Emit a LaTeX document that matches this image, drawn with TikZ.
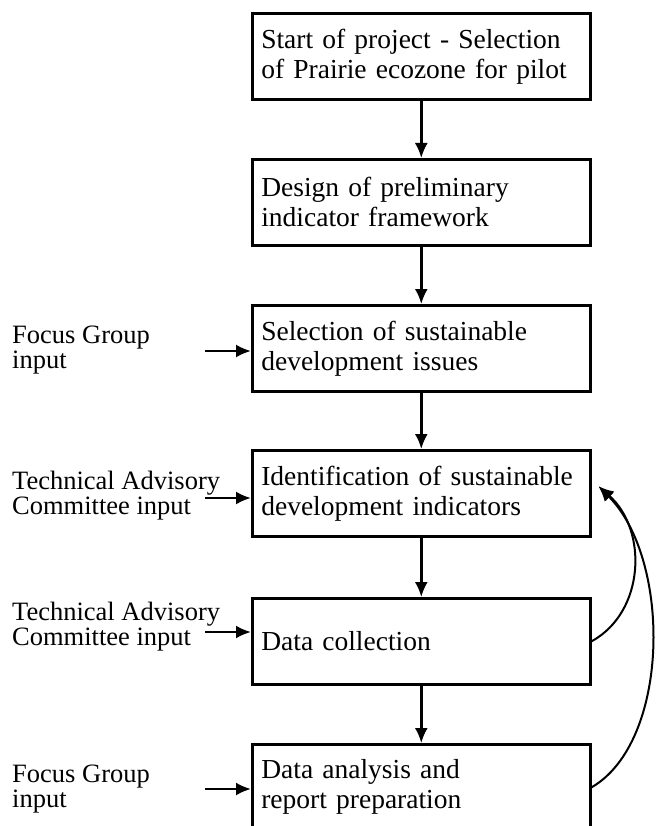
\documentclass[tikz,border=0pt]{standalone}
\usepackage{fontspec}
\setmainfont{Liberation Serif}
\usetikzlibrary{arrows.meta}
\begin{document}
\begin{tikzpicture}[x=1pt,y=-1pt,
  stage/.style={draw, line width=2.6pt, rectangle, anchor=north west,
    text width=320pt, inner xsep=9pt, inner ysep=0pt, minimum height=86pt,
    align=left, font=\fontsize{27.5}{30}\selectfont},
  inputlabel/.style={anchor=west, inner sep=0pt, align=left,
    font=\fontsize{26.5}{25}\selectfont},
  flow/.style={line width=2.4pt, -{Latex[length=15pt,width=13pt]}},
  loopback/.style={line width=2pt, -{Latex[length=15pt,width=13pt]}}]
\useasboundingbox (0,0) rectangle (656,826);
\clip (0,0) rectangle (656,826);

% main sequence of stages
\node[stage] (s1) at (251,12)  {Start of project - Selection\\of Prairie ecozone for pilot};
\node[stage] (s2) at (251,158) {Design of preliminary\\indicator framework};
\node[stage] (s3) at (251,304) {Selection of sustainable\\development issues};
\node[stage] (s4) at (251,449) {Identification of sustainable\\development indicators};
\node[stage] (s5) at (251,597) {Data collection};
\node[stage] (s6) at (251,743) {Data analysis and\\report preparation};

\draw[flow] (s1) -- (s2);
\draw[flow] (s2) -- (s3);
\draw[flow] (s3) -- (s4);
\draw[flow] (s4) -- (s5);
\draw[flow] (s5) -- (s6);

% external inputs
\node[inputlabel] (i3) at (12,350) {Focus Group\\input};
\node[inputlabel] (i4) at (12,496) {Technical Advisory\\Committee input};
\node[inputlabel] (i5) at (12,627) {Technical Advisory\\Committee input};
\node[inputlabel] (i6) at (12,789) {Focus Group\\input};

\coordinate (a3) at (205,351);
\coordinate (a4) at (205,498);
\coordinate (a5) at (205,632);
\coordinate (a6) at (205,789);
\draw[flow] (a3) -- (s3.west |- a3);
\draw[flow] (a4) -- (s4.west |- a4);
\draw[flow] (a5) -- (s5.west |- a5);
\draw[flow] (a6) -- (s6.west |- a6);

% feedback loops back to indicator identification
\coordinate (fb) at ([xshift=7pt,yshift=7pt]s4.east);
\draw[loopback] (s5.east) .. controls (645,612) and (648,530) .. (fb);
\draw[loopback] (s6.east) .. controls (670,742) and (672,560) .. (fb);
\end{tikzpicture}
\end{document}
